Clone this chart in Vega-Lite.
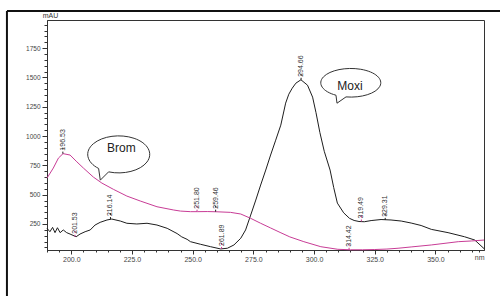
{
  "$schema": "https://vega.github.io/schema/vega-lite/v6.json",
  "width": 437,
  "height": 230,
  "autosize": {"type": "none"},
  "padding": {"left": 47, "top": 20, "right": 16, "bottom": 46},
  "background": "white",
  "config": {
    "font": "Liberation Sans",
    "view": {"stroke": "#333333", "strokeWidth": 1},
    "axis": {"grid": false, "labelOverlap": false, "labelBound": false, "domainColor": "#333333", "tickColor": "#333333", "labelColor": "#444444", "labelFont": "Liberation Sans"}
  },
  "datasets": {
    "spectra": [
      {"nm": 190, "v": 213, "s": "Moxi"}, {"nm": 191.2, "v": 184, "s": "Moxi"}, {"nm": 192.3, "v": 221, "s": "Moxi"},
      {"nm": 193.3, "v": 176, "s": "Moxi"}, {"nm": 194.3, "v": 218, "s": "Moxi"}, {"nm": 195.4, "v": 176, "s": "Moxi"},
      {"nm": 196.7, "v": 199, "s": "Moxi"}, {"nm": 198.1, "v": 176, "s": "Moxi"}, {"nm": 199.5, "v": 164, "s": "Moxi"},
      {"nm": 202.0, "v": 141, "s": "Moxi"}, {"nm": 203.6, "v": 164, "s": "Moxi"}, {"nm": 205.7, "v": 184, "s": "Moxi"},
      {"nm": 207.8, "v": 199, "s": "Moxi"}, {"nm": 209.8, "v": 241, "s": "Moxi"}, {"nm": 211.9, "v": 264, "s": "Moxi"},
      {"nm": 214.7, "v": 284, "s": "Moxi"}, {"nm": 216.7, "v": 292, "s": "Moxi"}, {"nm": 220.2, "v": 275, "s": "Moxi"},
      {"nm": 222.9, "v": 256, "s": "Moxi"}, {"nm": 227.0, "v": 250, "s": "Moxi"}, {"nm": 231.2, "v": 256, "s": "Moxi"},
      {"nm": 235.3, "v": 241, "s": "Moxi"}, {"nm": 239.5, "v": 213, "s": "Moxi"}, {"nm": 243.6, "v": 168, "s": "Moxi"},
      {"nm": 245.5, "v": 140, "s": "Moxi"}, {"nm": 247.7, "v": 119, "s": "Moxi"}, {"nm": 249.1, "v": 99, "s": "Moxi"},
      {"nm": 253.2, "v": 77, "s": "Moxi"}, {"nm": 257.4, "v": 56, "s": "Moxi"}, {"nm": 261.5, "v": 37, "s": "Moxi"},
      {"nm": 264.3, "v": 43, "s": "Moxi"}, {"nm": 267.0, "v": 71, "s": "Moxi"}, {"nm": 269.8, "v": 128, "s": "Moxi"},
      {"nm": 271.8, "v": 199, "s": "Moxi"}, {"nm": 273.9, "v": 326, "s": "Moxi"}, {"nm": 276.0, "v": 454, "s": "Moxi"},
      {"nm": 278.0, "v": 582, "s": "Moxi"}, {"nm": 280.1, "v": 710, "s": "Moxi"}, {"nm": 282.1, "v": 838, "s": "Moxi"},
      {"nm": 284.2, "v": 965, "s": "Moxi"}, {"nm": 286.3, "v": 1093, "s": "Moxi"}, {"nm": 288.3, "v": 1281, "s": "Moxi"},
      {"nm": 289.6, "v": 1357, "s": "Moxi"}, {"nm": 291.0, "v": 1408, "s": "Moxi"}, {"nm": 292.5, "v": 1451, "s": "Moxi"},
      {"nm": 294.6, "v": 1480, "s": "Moxi"}, {"nm": 297.3, "v": 1434, "s": "Moxi"}, {"nm": 299.4, "v": 1332, "s": "Moxi"},
      {"nm": 300.8, "v": 1200, "s": "Moxi"}, {"nm": 302.4, "v": 1030, "s": "Moxi"}, {"nm": 304.2, "v": 870, "s": "Moxi"},
      {"nm": 306.6, "v": 710, "s": "Moxi"}, {"nm": 308.1, "v": 560, "s": "Moxi"}, {"nm": 309.6, "v": 428, "s": "Moxi"},
      {"nm": 312.2, "v": 345, "s": "Moxi"}, {"nm": 314.6, "v": 298, "s": "Moxi"}, {"nm": 316.5, "v": 280, "s": "Moxi"},
      {"nm": 318.5, "v": 271, "s": "Moxi"}, {"nm": 320.7, "v": 269, "s": "Moxi"}, {"nm": 323.5, "v": 279, "s": "Moxi"},
      {"nm": 327.6, "v": 288, "s": "Moxi"}, {"nm": 331.7, "v": 284, "s": "Moxi"}, {"nm": 335.9, "v": 275, "s": "Moxi"},
      {"nm": 340.0, "v": 258, "s": "Moxi"}, {"nm": 344.1, "v": 237, "s": "Moxi"}, {"nm": 348.3, "v": 204, "s": "Moxi"},
      {"nm": 355.2, "v": 176, "s": "Moxi"}, {"nm": 362.0, "v": 141, "s": "Moxi"}, {"nm": 366.2, "v": 113, "s": "Moxi"},
      {"nm": 370.0, "v": 40, "s": "Moxi"},
      {"nm": 190, "v": 641, "s": "Brom"}, {"nm": 192.6, "v": 727, "s": "Brom"}, {"nm": 194.7, "v": 812, "s": "Brom"},
      {"nm": 196.6, "v": 850, "s": "Brom"}, {"nm": 199.5, "v": 838, "s": "Brom"}, {"nm": 202.3, "v": 780, "s": "Brom"},
      {"nm": 205.0, "v": 727, "s": "Brom"}, {"nm": 209.1, "v": 650, "s": "Brom"}, {"nm": 212.6, "v": 599, "s": "Brom"},
      {"nm": 217.4, "v": 545, "s": "Brom"}, {"nm": 222.9, "v": 488, "s": "Brom"}, {"nm": 228.4, "v": 446, "s": "Brom"},
      {"nm": 235.3, "v": 397, "s": "Brom"}, {"nm": 242.2, "v": 369, "s": "Brom"}, {"nm": 245.0, "v": 360, "s": "Brom"},
      {"nm": 249.1, "v": 355, "s": "Brom"}, {"nm": 252.0, "v": 355, "s": "Brom"}, {"nm": 256.0, "v": 356, "s": "Brom"},
      {"nm": 260.0, "v": 354, "s": "Brom"}, {"nm": 265.6, "v": 349, "s": "Brom"}, {"nm": 269.8, "v": 335, "s": "Brom"},
      {"nm": 273.9, "v": 298, "s": "Brom"}, {"nm": 278.0, "v": 256, "s": "Brom"}, {"nm": 282.1, "v": 216, "s": "Brom"},
      {"nm": 286.0, "v": 178, "s": "Brom"}, {"nm": 290.0, "v": 140, "s": "Brom"}, {"nm": 295.8, "v": 99, "s": "Brom"},
      {"nm": 302.8, "v": 56, "s": "Brom"}, {"nm": 309.8, "v": 34, "s": "Brom"}, {"nm": 315.0, "v": 30, "s": "Brom"},
      {"nm": 320.0, "v": 30, "s": "Brom"}, {"nm": 325.0, "v": 32, "s": "Brom"}, {"nm": 330.0, "v": 36, "s": "Brom"},
      {"nm": 334.6, "v": 43, "s": "Brom"}, {"nm": 340.0, "v": 54, "s": "Brom"}, {"nm": 348.3, "v": 71, "s": "Brom"},
      {"nm": 359.4, "v": 99, "s": "Brom"}, {"nm": 364.8, "v": 105, "s": "Brom"}, {"nm": 370.0, "v": 113, "s": "Brom"}
    ],
    "peaks": [
      {"nm": 196.53, "v": 850, "label": "196.53", "kind": "max"},
      {"nm": 201.53, "v": 141, "label": "201.53", "kind": "min"},
      {"nm": 216.14, "v": 292, "label": "216.14", "kind": "max"},
      {"nm": 251.80, "v": 355, "label": "251.80", "kind": "min"},
      {"nm": 259.46, "v": 355, "label": "259.46", "kind": "max"},
      {"nm": 261.89, "v": 37, "label": "261.89", "kind": "min"},
      {"nm": 294.66, "v": 1480, "label": "294.66", "kind": "max"},
      {"nm": 314.42, "v": 30, "label": "314.42", "kind": "min"},
      {"nm": 319.49, "v": 271, "label": "319.49", "kind": "min"},
      {"nm": 329.31, "v": 285, "label": "329.31", "kind": "max"}
    ],
    "notes": [
      {"name": "Brom", "nm": 220.6, "v": 837, "tv": 897},
      {"name": "Moxi", "nm": 314.8, "v": 1455, "tv": 1425}
    ]
  },
  "layer": [
    {
      "data": {"name": "spectra"},
      "mark": {"type": "line", "strokeWidth": 1},
      "encoding": {
        "x": {
          "field": "nm", "type": "quantitative",
          "scale": {"domain": [190, 370], "nice": false, "zero": false},
          "axis": {
            "title": null,
            "tickCount": 200,
            "values": [190,195,200,205,210,215,220,225,230,235,240,245,250,255,260,265,270,275,280,285,290,295,300,305,310,315,320,325,330,335,340,345,350,355,360,365,368],
            "labelExpr": "datum.value == 368 ? 'nm' : (datum.value % 25 === 0 ? format(datum.value, '.1f') : '')",
            "labelOverlap": false,
            "labelFontSize": 7,
            "labelPadding": 1,
            "tickSize": {"condition": {"test": "datum.value % 25 === 0", "value": 4}, "value": 2}
          }
        },
        "y": {
          "field": "v", "type": "quantitative",
          "scale": {"domain": [28, 1990], "nice": false, "zero": false},
          "axis": {
            "title": "mAU",
            "titleAngle": 0, "titleAlign": "center", "titleBaseline": "middle",
            "titleX": 3, "titleY": -5, "titleFontSize": 7, "titleFontWeight": "normal", "titleColor": "#333333",
            "tickCount": 200,
            "values": [50,100,150,200,250,300,350,400,450,500,550,600,650,700,750,800,850,900,950,1000,1050,1100,1150,1200,1250,1300,1350,1400,1450,1500,1550,1600,1650,1700,1750,1800,1850,1900,1950],
            "labelExpr": "datum.value % 250 === 0 ? format(datum.value, 'd') : ''",
            "labelOverlap": false,
            "labelFontSize": 6.5,
            "labelPadding": 2,
            "tickSize": {"condition": {"test": "datum.value % 250 === 0", "value": 5}, "value": 3}
          }
        },
        "color": {
          "field": "s", "type": "nominal",
          "scale": {"domain": ["Moxi", "Brom"], "range": ["#1e1e1e", "#c83c96"]},
          "legend": null
        }
      }
    },
    {
      "data": {"name": "peaks"},
      "mark": {"type": "rule", "strokeWidth": 1, "strokeDash": [2, 2]},
      "encoding": {
        "x": {"field": "nm", "type": "quantitative"},
        "y": {"field": "v", "type": "quantitative"},
        "y2": {"field": "v"},
        "yOffset": {"value": -6},
        "y2Offset": {"value": 7},
        "color": {"field": "kind", "type": "nominal", "scale": {"domain": ["max", "min"], "range": ["#e03a5a", "#3a46c8"]}, "legend": null}
      }
    },
    {
      "data": {"name": "peaks"},
      "mark": {"type": "text", "angle": 270, "align": "left", "baseline": "middle", "dx": 3, "fontSize": 7, "color": "#333333"},
      "encoding": {
        "x": {"field": "nm", "type": "quantitative"},
        "y": {"field": "v", "type": "quantitative"},
        "text": {"field": "label"}
      }
    },
    {
      "data": {"name": "notes"},
      "mark": {"type": "point", "filled": false, "fill": "white", "fillOpacity": 1, "stroke": "#333333", "strokeWidth": 1, "opacity": 1},
      "encoding": {
        "x": {"field": "nm", "type": "quantitative"},
        "y": {"field": "v", "type": "quantitative"},
        "shape": {
          "field": "name", "type": "nominal",
          "scale": {"domain": ["Brom", "Moxi"], "range": [
            "M -0.41 0.539 A 1 0.597 0 1 0 -0.732 0.429 L -0.677 0.806 Z",
            "M -0.133 0.473 A 1 0.477 0 1 0 -0.467 0.417 L -0.433 0.683 Z"
          ]},
          "legend": null
        },
        "size": {
          "field": "name", "type": "nominal",
          "scale": {"domain": ["Brom", "Moxi"], "range": [3844, 3600]},
          "legend": null
        }
      }
    },
    {
      "data": {"name": "notes"},
      "mark": {"type": "text", "fontSize": 12, "font": "Liberation Sans", "color": "#222222", "baseline": "middle", "align": "center"},
      "encoding": {
        "x": {"field": "nm", "type": "quantitative"},
        "y": {"field": "tv", "type": "quantitative"},
        "text": {"field": "name"}
      }
    },
    {
      "data": {"values": [{}]},
      "mark": {"type": "rule", "strokeWidth": 2, "color": "#111111", "clip": false},
      "encoding": {
        "x": {"datum": 173.5},
        "y": {"datum": 2067},
        "y2": {"datum": -365}
      }
    },
    {
      "data": {"values": [{}]},
      "mark": {"type": "rule", "strokeWidth": 2, "color": "#111111", "clip": false},
      "encoding": {
        "x": {"datum": 173.5},
        "x2": {"datum": 377},
        "y": {"datum": 2067}
      }
    }
  ]
}
